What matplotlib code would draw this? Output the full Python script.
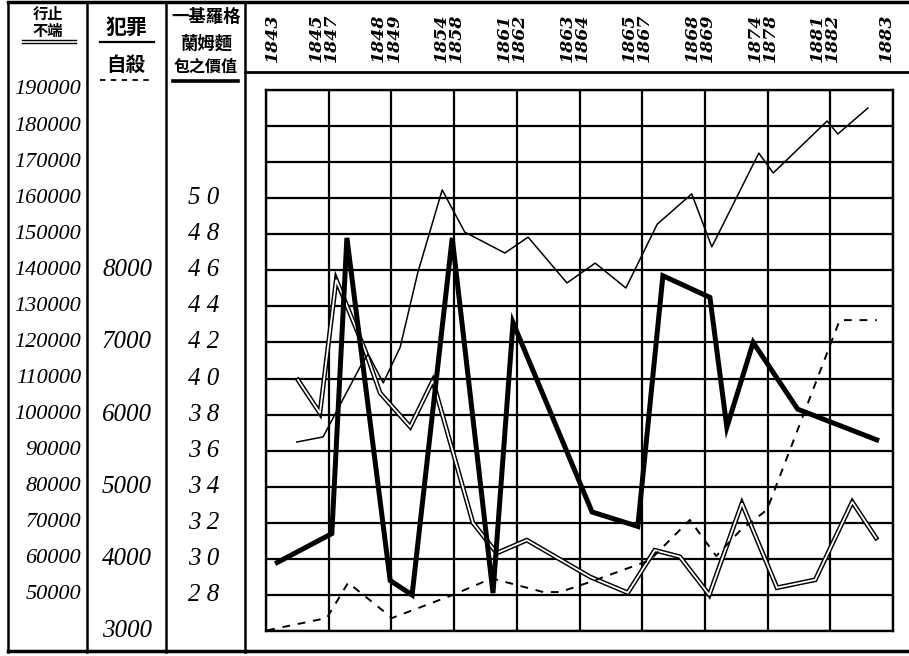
import matplotlib
matplotlib.use('Agg')
import matplotlib.pyplot as plt
import matplotlib.transforms as mtransforms
import numpy as np

# 年份 (每條直線一個)
years = ['1843', '1845\n1847', '1848\n1849', '1854\n1858', '1861\n1862', '1863\n1864',
         '1865\n1867', '1868\n1869', '1874\n1878', '1881\n1882', '1883']

# 行止不端 -- thin line
conduct_x = [0.49, 0.91, 1.50, 1.63, 1.87, 2.14, 2.42, 2.81, 3.17, 3.81, 4.18,
             4.80, 5.25, 5.74, 6.24, 6.79, 7.11, 7.86, 8.09, 8.95, 9.12, 9.60]
conduct_y = [92400, 93800, 113200, 116800, 108800, 118700, 139300, 162300, 150600,
             144800, 149200, 136500, 142000, 135100, 152800, 161200, 146500,
             172500, 167000, 181400, 177800, 185000]

# 犯罪 -- double line
crime_x = [0.51, 0.86, 1.12, 1.59, 1.82, 2.30, 2.66, 3.30, 3.68, 4.16, 5.17,
           5.77, 6.20, 6.60, 7.07, 7.59, 8.15, 8.76, 9.35, 9.73]
crime_y = [6480, 6020, 7870, 6870, 6300, 5830, 6470, 4500, 4080, 4260, 3750,
           3530, 4120, 4030, 3500, 4770, 3600, 3710, 4790, 4290]

# 自殺 -- dashed line
suicide_x = [0.02, 0.97, 1.31, 2.01, 2.98, 3.60, 4.42, 4.69, 5.17, 6.12, 6.76,
             7.18, 7.56, 7.99, 9.15, 9.74]
suicide_y = [3010, 3180, 3670, 3180, 3500, 3730, 3540, 3540, 3680, 3980, 4540,
             4040, 4390, 4680, 7310, 7310]

# 一基羅格蘭姆麵包之價值 -- thick line
bread_x = [0.18, 1.05, 1.29, 1.98, 2.33, 2.97, 3.62, 3.94, 5.20, 5.93, 6.33,
           7.08, 7.35, 7.77, 8.48, 9.74]
bread_y = [29.8, 31.4, 47.8, 28.8, 28.0, 47.8, 28.1, 43.1, 32.6, 31.8, 45.7,
           44.5, 37.3, 42.0, 38.3, 36.6]

# scale labels in the left columns
conduct_ticks = list(range(190000, 49999, -10000))
crime_ticks = [8000, 7000, 6000, 5000, 4000, 3000]
bread_ticks = [50, 48, 46, 44, 42, 40, 38, 36, 34, 32, 30, 28]

W, H = 909, 656
fig = plt.figure(figsize=(W / 100, H / 100), dpi=100)
fig.patch.set_facecolor('white')

# background axes in pixel coords for the table frame
bg = fig.add_axes([0, 0, 1, 1])
bg.set_xlim(0, W)
bg.set_ylim(H, 0)
bg.axis('off')

# chart box
left, right, top, bottom = 266, 893, 90, 631
rect = [left / W, 1 - bottom / H, (right - left) / W, (bottom - top) / H]
ax = fig.add_axes(rect)          # crime / suicide scale, holds the grid
ax.set_xlim(0, 10)
ax.set_ylim(3000, 10500)
ax.set_xticks(np.arange(0, 11))
ax.set_yticks(np.arange(3000, 10501, 500))
ax.grid(True, color='black', lw=1.6)
ax.tick_params(length=0, labelleft=False, labelbottom=False)
for s in ax.spines.values():
    s.set_linewidth(1.7)
ax.set_axisbelow(True)

ax_c = ax.twinx()                # 行止不端 scale
ax_c.set_ylim(40000, 190000)
ax_b = ax.twinx()                # bread scale
ax_b.set_ylim(26, 56)
for a in (ax_c, ax_b):
    a.set_yticks([])
    a.patch.set_visible(False)
    for s in a.spines.values():
        s.set_visible(False)

# double line = black wide + white narrow
ax.plot(crime_x, crime_y, color='black', lw=3.4, solid_joinstyle='miter', zorder=3)
ax.plot(crime_x, crime_y, color='white', lw=1.3, solid_joinstyle='miter', zorder=4)
ax.plot(suicide_x, suicide_y, color='black', lw=1.4, dashes=(4, 4), zorder=5)
ax_c.plot(conduct_x, conduct_y, color='black', lw=1.1)
ax_b.plot(bread_x, bread_y, color='black', lw=3.6, solid_joinstyle='miter')

# table lines
bg.plot([8, W], [2, 2], color='black', lw=2.5)
bg.plot([8, W], [651, 651], color='black', lw=2.5)
bg.plot([245, W], [72, 72], color='black', lw=2)
for xv in [8, 87, 166, 245]:
    bg.plot([xv, xv], [2, 652], color='black', lw=1.8)

cjk = ['Noto Sans CJK TC', 'DejaVu Sans']
num_font = 'Liberation Serif'

# headers
bg.text(48, 14, '行止', ha='center', va='center', fontsize=11, family=cjk, fontweight='bold')
bg.text(48, 31, '不端', ha='center', va='center', fontsize=11, family=cjk, fontweight='bold')
bg.plot([22, 76], [40, 40], color='black', lw=1)
bg.plot([22, 76], [43, 43], color='black', lw=1)

bg.text(126, 27, '犯罪', ha='center', va='center', fontsize=15, family=cjk, fontweight='bold')
bg.plot([100, 154], [42, 42], color='black', lw=1.6)
bg.text(126, 65, '自殺', ha='center', va='center', fontsize=14, family=cjk, fontweight='bold')
bg.plot([100, 154], [80, 80], color='black', lw=1.3, dashes=(3, 3))

bg.text(206, 17, '一基羅格', ha='center', va='center', fontsize=12.5, family=cjk, fontweight='bold')
bg.text(206, 44, '蘭姆麵', ha='center', va='center', fontsize=12.5, family=cjk, fontweight='bold')
bg.text(206, 67, '包之價值', ha='center', va='center', fontsize=11.5, family=cjk, fontweight='bold')
bg.plot([173, 238], [81, 81], color='black', lw=2.6)

# year labels, x from chart data, y in pixels
tr_year = mtransforms.blended_transform_factory(ax.transData, bg.transData)
for k, lab in enumerate(years):
    if '\n' in lab:
        xk = k - 0.08
    else:
        xk = k + 0.1 if k == 0 else k - 0.1
    bg.text(xk, 38, lab, transform=tr_year, rotation=90, ha='center', va='center',
            fontsize=12.5, family='DejaVu Serif', style='italic', fontweight='bold',
            linespacing=0.85, clip_on=False)

# scale columns: x in pixels, y through each series' own axis
tr_c = mtransforms.blended_transform_factory(bg.transData, ax_c.transData)
tr_k = mtransforms.blended_transform_factory(bg.transData, ax.transData)
tr_b = mtransforms.blended_transform_factory(bg.transData, ax_b.transData)
for v in conduct_ticks:
    bg.text(81, v, str(v), transform=tr_c, ha='right', va='center', fontsize=16,
            family=num_font, style='italic', clip_on=False)
for v in crime_ticks:
    bg.text(127, v, str(v), transform=tr_k, ha='center', va='center', fontsize=18,
            family=num_font, style='italic', clip_on=False)
for v in bread_ticks:
    s = str(v)
    bg.text(204, v, s[0] + ' ' + s[1], transform=tr_b, ha='center', va='center',
            fontsize=18, family=num_font, style='italic', clip_on=False)

fig.savefig('out.png', dpi=100, facecolor='white')
